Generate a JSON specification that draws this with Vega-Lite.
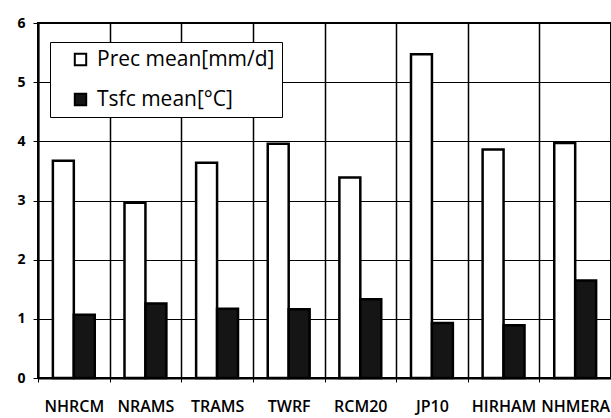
{
  "$schema": "https://vega.github.io/schema/vega-lite/v6.json",
  "autosize": {"type": "none"},
  "padding": {"left": 38, "top": 23, "right": 0, "bottom": 40},
  "width": 573,
  "height": 355,
  "background": "white",
  "config": {
    "view": {"stroke": "black", "strokeWidth": 2},
    "font": "Open Sans"
  },
  "data": {
    "values": [
      {"model": "NHRCM", "series": "Prec mean[mm/d]", "value": 3.67},
      {"model": "NHRCM", "series": "Tsfc mean[°C]", "value": 1.07},
      {"model": "NRAMS", "series": "Prec mean[mm/d]", "value": 2.96},
      {"model": "NRAMS", "series": "Tsfc mean[°C]", "value": 1.26},
      {"model": "TRAMS", "series": "Prec mean[mm/d]", "value": 3.64},
      {"model": "TRAMS", "series": "Tsfc mean[°C]", "value": 1.17},
      {"model": "TWRF", "series": "Prec mean[mm/d]", "value": 3.96},
      {"model": "TWRF", "series": "Tsfc mean[°C]", "value": 1.16},
      {"model": "RCM20", "series": "Prec mean[mm/d]", "value": 3.39},
      {"model": "RCM20", "series": "Tsfc mean[°C]", "value": 1.33},
      {"model": "JP10", "series": "Prec mean[mm/d]", "value": 5.47},
      {"model": "JP10", "series": "Tsfc mean[°C]", "value": 0.93},
      {"model": "HIRHAM", "series": "Prec mean[mm/d]", "value": 3.86},
      {"model": "HIRHAM", "series": "Tsfc mean[°C]", "value": 0.89},
      {"model": "NHMERA", "series": "Prec mean[mm/d]", "value": 3.97},
      {"model": "NHMERA", "series": "Tsfc mean[°C]", "value": 1.65}
    ]
  },
  "mark": {"type": "bar", "stroke": "black", "strokeWidth": 2.5, "strokeJoin": "miter"},
  "encoding": {
    "x": {
      "field": "model",
      "type": "nominal",
      "sort": null,
      "scale": {"paddingInner": 0, "paddingOuter": 0},
      "axis": {
        "title": null,
        "labelAngle": 0,
        "tickBand": "extent",
        "grid": true,
        "gridColor": "black",
        "gridWidth": 1.5,
        "gridOpacity": 1,
        "domainColor": "black",
        "domainWidth": 2,
        "tickColor": "black",
        "tickSize": 4,
        "labelPadding": 16,
        "labelFontSize": 16,
        "labelFontWeight": 600,
        "labelColor": "black",
        "labelFont": "Open Sans",
        "labelOverlap": false
      }
    },
    "xOffset": {
      "field": "series",
      "type": "nominal",
      "scale": {"paddingInner": 0, "paddingOuter": 0.71}
    },
    "y": {
      "field": "value",
      "type": "quantitative",
      "scale": {"domain": [0, 6], "nice": false},
      "axis": {
        "title": null,
        "values": [0, 1, 2, 3, 4, 5, 6],
        "grid": true,
        "gridColor": "black",
        "gridWidth": 1.2,
        "gridOpacity": 1,
        "domainColor": "black",
        "domainWidth": 2,
        "tickColor": "black",
        "tickSize": 5,
        "labelPadding": 8,
        "labelFontSize": 14,
        "labelFontWeight": "bold",
        "labelColor": "black"
      }
    },
    "fill": {
      "field": "series",
      "type": "nominal",
      "scale": {"domain": ["Prec mean[mm/d]", "Tsfc mean[°C]"], "range": ["white", "#151515"]},
      "legend": {
        "title": null,
        "orient": "none",
        "legendX": 12,
        "legendY": 19,
        "direction": "vertical",
        "fillColor": "white",
        "strokeColor": "black",
        "padding": 7,
        "symbolType": "square",
        "symbolSize": 130,
        "symbolOffset": 13,
        "symbolStrokeColor": "black",
        "symbolStrokeWidth": 2,
        "symbolOpacity": 1,
        "labelFontSize": 21,
        "labelColor": "black",
        "labelFont": "Open Sans",
        "labelOffset": 6,
        "rowPadding": 18,
        "labelLimit": 300
      }
    }
  }
}
